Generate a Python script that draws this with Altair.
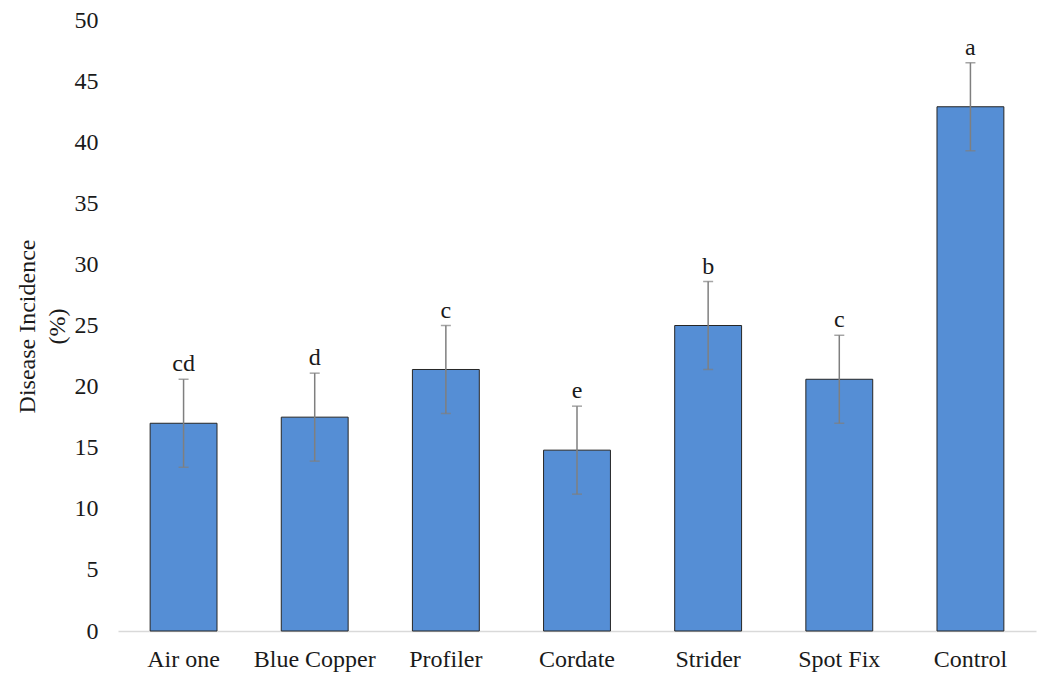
import altair as alt
import pandas as pd

# Treatments, mean disease incidence (%), standard error and significance letters
treatments = ["Air one", "Blue Copper", "Profiler", "Cordate", "Strider", "Spot Fix", "Control"]
incidence = [17.0, 17.5, 21.4, 14.8, 25.0, 20.6, 42.9]
errors = [3.6, 3.6, 3.6, 3.6, 3.6, 3.6, 3.6]
letters = ["cd", "d", "c", "e", "b", "c", "a"]

df = pd.DataFrame({
    "treatment": treatments,
    "incidence": incidence,
    "err": errors,
    "letter": letters,
})
df["lo"] = df["incidence"] - df["err"]
df["hi"] = df["incidence"] + df["err"]

FONT = "Liberation Serif"
TEXT = "#1a1a1a"

x = alt.X(
    "treatment:N",
    sort=treatments,
    scale=alt.Scale(paddingInner=0.49, paddingOuter=0.245),
    axis=alt.Axis(
        title=None,
        labelAngle=0,
        labelPadding=16,
        labelFont=FONT,
        ticks=False,
        domainColor="#d9d9d9",
        domainWidth=1.5,
    ),
)

y_scale = alt.Scale(domain=[0, 50], nice=False)

base = alt.Chart(df)

bars = base.mark_bar(color="#558ed5", stroke="#262626", strokeWidth=1).encode(
    x=x,
    y=alt.Y(
        "incidence:Q",
        scale=y_scale,
        axis=alt.Axis(
            title=["Disease Incidence", "(%)"],
            values=list(range(0, 51, 5)),
            grid=False,
            domain=False,
            ticks=False,
            labelFont=FONT,
            labelPadding=20,
            titleAngle=270,
            titleX=-91,
            titleY=306,
            titleAlign="center",
            titleBaseline="middle",
            titleLineHeight=30,
        ),
    ),
)

whisker = base.mark_rule(color="#7f7f7f", strokeWidth=1.5).encode(
    x=alt.X("treatment:N", sort=treatments),
    y=alt.Y("lo:Q", scale=y_scale),
    y2="hi:Q",
)

cap_hi = base.mark_tick(color="#7f7f7f", thickness=1.5, size=10).encode(
    x=alt.X("treatment:N", sort=treatments),
    y=alt.Y("hi:Q", scale=y_scale),
)

cap_lo = base.mark_tick(color="#7f7f7f", thickness=1.5, size=10).encode(
    x=alt.X("treatment:N", sort=treatments),
    y=alt.Y("lo:Q", scale=y_scale),
)

labels = base.mark_text(
    font=FONT, fontSize=24, color=TEXT, baseline="alphabetic", dy=-8
).encode(
    x=alt.X("treatment:N", sort=treatments),
    y=alt.Y("hi:Q", scale=y_scale),
    text="letter:N",
)

chart = (
    alt.layer(bars, whisker, cap_hi, cap_lo, labels)
    .properties(
        width=918,
        height=611,
        autosize=alt.AutoSizeParams(type="none"),
        padding={"left": 118, "top": 20, "right": 11, "bottom": 44},
        background="white",
    )
    .configure(font=FONT)
    .configure_view(stroke=None)
    .configure_axis(
        labelFont=FONT,
        labelFontSize=24,
        labelColor=TEXT,
        titleFont=FONT,
        titleFontSize=24,
        titleFontWeight="normal",
        titleColor=TEXT,
    )
)

chart.save("out.html", embed_options={"renderer": "svg", "actions": False})
